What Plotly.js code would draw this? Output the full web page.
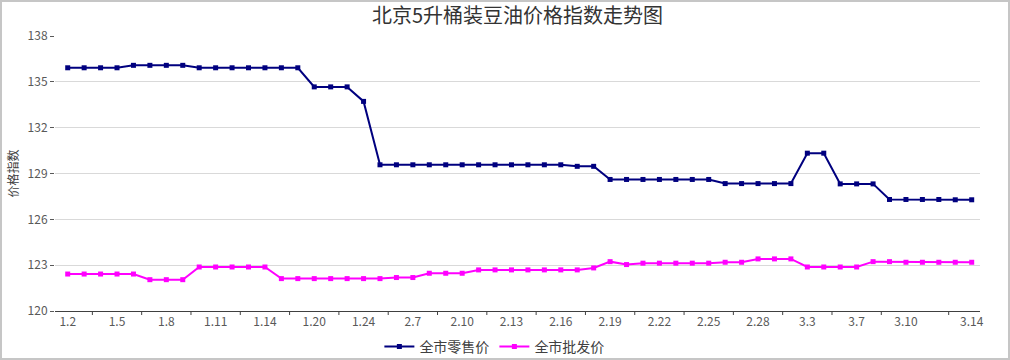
<!DOCTYPE html>
<html>
<head>
<meta charset="utf-8">
<script src="https://cdn.plot.ly/plotly-3.0.1.min.js"></script>
<style>
html,body{margin:0;padding:0;background:#fff;}
#wrap{position:relative;width:1010px;height:360px;}
#plot{width:1010px;height:360px;}
#frame{position:absolute;left:0;top:0;width:1010px;height:360px;box-sizing:border-box;border:2px solid #c6c6c6;pointer-events:none;}
</style>
</head>
<body>
<div id="wrap"><div id="plot"></div><div id="frame"></div></div>
<script>
const dates = ["1.2","1.3","1.4","1.5","1.6","1.7","1.8","1.9","1.10","1.11","1.12","1.13","1.14","1.15","1.16",
  "1.20","1.21","1.22","1.24","1.27","2.6","2.7","2.8","2.9","2.10","2.11","2.12","2.13","2.14","2.15","2.16",
  "2.17","2.18","2.19","2.20","2.21","2.22","2.23","2.24","2.25","2.26","2.27","2.28","3.1","3.2","3.3","3.4",
  "3.5","3.7","3.8","3.9","3.10","3.11","3.12","3.13","3.14"];
const retail = [135.92,135.92,135.92,135.92,136.08,136.08,136.08,136.08,135.92,135.92,135.92,135.92,135.92,135.92,135.92,
  134.67,134.67,134.67,133.72,129.57,129.57,129.57,129.57,129.57,129.57,129.57,129.57,129.57,129.57,129.57,129.57,
  129.47,129.47,128.61,128.61,128.61,128.61,128.61,128.61,128.61,128.34,128.34,128.34,128.34,128.34,130.33,130.33,
  128.32,128.32,128.32,127.30,127.30,127.30,127.30,127.28,127.28];
const wholesale = [122.42,122.42,122.42,122.42,122.42,122.05,122.05,122.05,122.88,122.88,122.88,122.88,122.88,122.12,122.12,
  122.12,122.12,122.12,122.12,122.12,122.19,122.19,122.47,122.47,122.47,122.69,122.69,122.69,122.69,122.69,122.69,
  122.69,122.82,123.23,123.04,123.13,123.13,123.13,123.13,123.13,123.19,123.19,123.41,123.41,123.41,122.88,122.88,
  122.88,122.88,123.23,123.23,123.19,123.19,123.19,123.19,123.19];
const tickLabels = ["1.2","1.5","1.8","1.11","1.14","1.20","1.24","2.7","2.10","2.13","2.16","2.19","2.22","2.25","2.28","3.3","3.7","3.10","3.14"];
const tickMarkPos = [1.5,4.5,7.5,10.5,13.5,16.5,19.5,22.5,25.5,28.5,31.5,34.5,37.5,40.5,43.5,46.5,49.5,53.6];
const seriesNames = ["全市零售价","全市批发价"];
const titleText = "北京5升桶装豆油价格指数走势图";
const yTitle = "价格指数";

const font = '"Noto Sans CJK SC", "Noto Sans", sans-serif';
const xRange = [-0.773, 55.505];
const plotH = 360 - 36 - 49;

const traces = [
  {x: dates, y: retail, name: seriesNames[0], type: 'scatter', mode: 'lines+markers',
   line: {color: '#00007f', width: 2}, marker: {symbol: 'square', size: 5, color: '#00007f'}, hoverinfo: 'x+y'},
  {x: dates, y: wholesale, name: seriesNames[1], type: 'scatter', mode: 'lines+markers',
   line: {color: '#ff00ff', width: 2}, marker: {symbol: 'square', size: 5, color: '#ff00ff'}, hoverinfo: 'x+y'}
];

const tickShapes = tickMarkPos.map(p => ({type: 'line', xref: 'x', yref: 'paper', x0: p, x1: p,
  y0: 0, y1: -4 / plotH, line: {color: '#404040', width: 1}}));

const layout = {
  width: 1010, height: 360,
  margin: {l: 55, r: 30, t: 36, b: 49, autoexpand: false},
  paper_bgcolor: '#ffffff', plot_bgcolor: '#ffffff',
  font: {family: font, size: 12, color: '#595959'},
  title: {text: titleText, font: {family: font, size: 20, color: '#333333'}, x: 0.5, xanchor: 'center', y: 0.955, yanchor: 'middle', xref: 'paper'},
  showlegend: true,
  legend: {orientation: 'h', x: 0.475, xanchor: 'center', y: -0.072, yanchor: 'top',
    font: {family: font, size: 14, color: '#404040'}, itemwidth: 30, tracegroupgap: 0},
  xaxis: {type: 'category', categoryorder: 'array', categoryarray: dates, range: xRange,
    tickmode: 'array', tickvals: tickLabels, ticktext: tickLabels, ticks: '',
    showgrid: false, zeroline: false, showline: true, linecolor: '#404040', linewidth: 1,
    tickfont: {family: font, size: 12, color: '#595959'}, fixedrange: true},
  yaxis: {range: [120, 138], tickmode: 'linear', tick0: 120, dtick: 3, ticks: 'outside', ticklen: 4,
    tickcolor: '#595959', showgrid: true, gridcolor: '#d9d9d9', gridwidth: 1, zeroline: false,
    showline: false, tickfont: {family: font, size: 12, color: '#595959'}, fixedrange: true},
  shapes: tickShapes,
  annotations: [
    {text: yTitle, xref: 'paper', yref: 'paper', x: -43/925, y: 0.5, xanchor: 'center', yanchor: 'middle',
     textangle: -90, showarrow: false, font: {family: font, size: 12, color: '#404040'}}
  ]
};

Plotly.newPlot('plot', traces, layout, {displayModeBar: false, staticPlot: true});
</script>
</body>
</html>
